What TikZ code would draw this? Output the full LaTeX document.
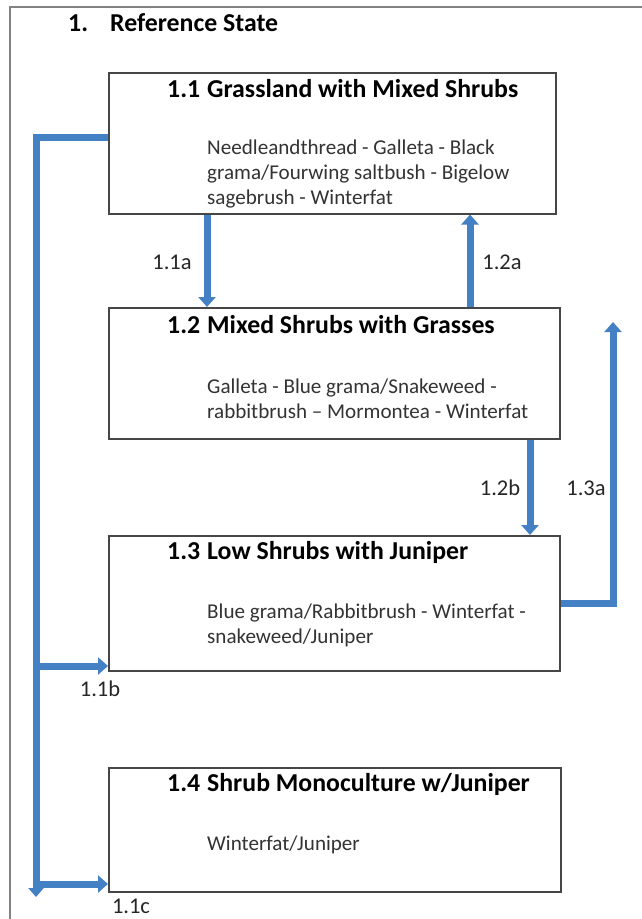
\documentclass[tikz,border=0pt]{standalone}
\usepackage{fontspec}
\setmainfont{Carlito}
\usetikzlibrary{arrows.meta,positioning,calc}
\definecolor{flowblue}{RGB}{68,128,196}
\definecolor{boxgray}{RGB}{70,70,70}
\definecolor{framegray}{RGB}{130,130,130}
\tikzset{
  >=Latex,
  statebox/.style={
    rectangle, draw=boxgray, line width=1.5pt,
    fill=white, minimum width=451pt, minimum height=134pt,
    anchor=north west, inner sep=0pt
  },
  statetitle/.style={anchor=west, inner sep=0pt, font=\bfseries\fontsize{25.8}{28}\selectfont},
  statebody/.style={anchor=north west, inner sep=0pt, align=left,
    font=\fontsize{21.1}{25}\selectfont, text=black!80},
  flow/.style={line width=7pt, draw=flowblue,
    -{Triangle[width=17pt,length=10pt]}},
  flowlabel/.style={inner sep=0pt, font=\fontsize{22.5}{24}\selectfont, text=black!85},
}
\begin{document}
\begin{tikzpicture}[x=1pt,y=-1pt]
\useasboundingbox (0,0) rectangle (642,919);
% --- Frame ---
\draw[framegray, line width=2pt] (10,919) -- (10,7) -- (642,7);
\node[statetitle] (head) at (68,23) {\makebox[42pt][l]{1.}Reference State};
% --- Nodes ---
\node[statebox, minimum width=447pt, minimum height=141pt] (s11) at (108,72) {};
\node[statebox, minimum height=131pt] (s12) at (108,307) {};
\node[statebox, minimum height=135pt] (s13) at (108,535) {};
\node[statebox, minimum width=452pt, minimum height=124pt] (s14) at (108,767) {};
% titles and plant lists
\node[statetitle] (t11) at ([xshift=59pt,yshift=-17pt]s11.north west) {\makebox[40pt][l]{1.1}Grassland with Mixed Shrubs};
\node[statebody] (p11) at ([xshift=99pt,yshift=-68pt]s11.north west) {Needleandthread - Galleta - Black\\grama/Fourwing saltbush - Bigelow\\sagebrush - Winterfat};
\node[statetitle] (t12) at ([xshift=59pt,yshift=-18pt]s12.north west) {\makebox[40pt][l]{1.2}Mixed Shrubs with Grasses};
\node[statebody] (p12) at ([xshift=99pt,yshift=-72pt]s12.north west) {Galleta - Blue grama/Snakeweed -\\rabbitbrush -- Mormontea - Winterfat};
\node[statetitle] (t13) at ([xshift=59pt,yshift=-17pt]s13.north west) {\makebox[40pt][l]{1.3}Low Shrubs with Juniper};
\node[statebody] (p13) at ([xshift=99pt,yshift=-69pt]s13.north west) {Blue grama/Rabbitbrush - Winterfat -\\snakeweed/Juniper};
\node[statetitle] (t14) at ([xshift=59pt,yshift=-17pt]s14.north west) {\makebox[40pt][l]{1.4}Shrub Monoculture w/Juniper};
\node[statebody] (p14) at ([xshift=99pt,yshift=-69pt]s14.north west) {Winterfat/Juniper};
% trunk on the left
\coordinate (trunk) at (36,137);
\coordinate (trunkend) at (36,897);
\coordinate (b1) at (36,666);
\coordinate (c1) at (36,884);
\coordinate (up13) at (613,322);
% --- Arrows ---
\draw[flow, -{Triangle[width=15pt,length=9pt]}] (s11.west |- trunk) -| (trunkend);
\draw[flow] (b1) -- (b1 -| s13.west);                          % 1.1b
\draw[flow] (c1) -- (c1 -| s14.west);                          % 1.1c
\draw[flow] ([xshift=99pt]s11.south west) -- ([xshift=99pt]s12.north west);   % 1.1a
\draw[flow] ([xshift=362pt]s12.north west) -- ([xshift=362pt]s11.south west); % 1.2a
\draw[flow] ([xshift=422pt]s12.south west) -- ([xshift=422pt]s13.north west); % 1.2b
\draw[flow] ([yshift=-68pt]s13.north east) -| (up13);                         % 1.3a
% --- Labels ---
\node[flowlabel] (l11a) at (172,262) {1.1a};
\node[flowlabel] (l12a) at (502,262) {1.2a};
\node[flowlabel] (l12b) at (500,488) {1.2b};
\node[flowlabel] (l13a) at (586,488) {1.3a};
\node[flowlabel] (l11b) at (100,689) {1.1b};
\node[flowlabel] (l11c) at (131,906) {1.1c};
\end{tikzpicture}
\end{document}
